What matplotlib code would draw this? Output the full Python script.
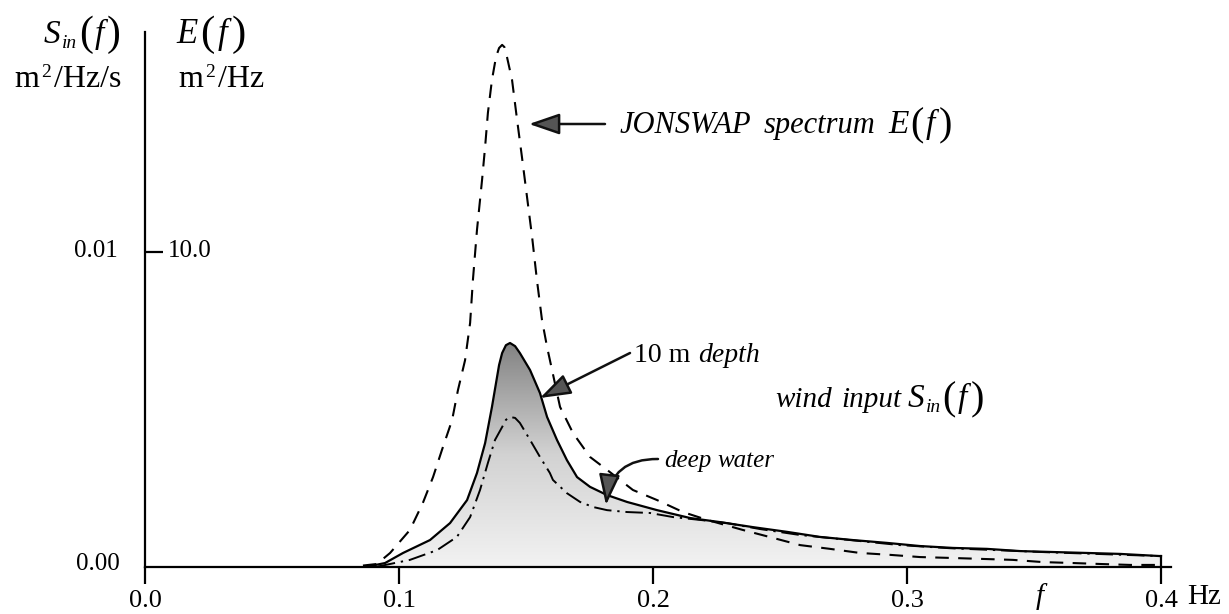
import numpy as np
import matplotlib
matplotlib.use("Agg")
import matplotlib.pyplot as plt
from matplotlib.colors import LinearSegmentedColormap
from matplotlib.patches import Polygon

plt.rcParams['font.family'] = ['Liberation Serif', 'DejaVu Serif']
plt.rcParams['mathtext.fontset'] = 'custom'
plt.rcParams['mathtext.rm'] = 'Liberation Serif'
plt.rcParams['mathtext.it'] = 'Liberation Serif:italic'
plt.rcParams['mathtext.bf'] = 'Liberation Serif:bold'

# ---- data ----
# JONSWAP spectrum E(f), m^2/Hz
f_jonswap = [0.0858, 0.0913, 0.0965, 0.1043, 0.1094, 0.1134, 0.1169, 0.1209, 0.1232, 0.1260,
             0.1280, 0.1291, 0.1307, 0.1327, 0.1339, 0.1350, 0.1366, 0.1382, 0.1394, 0.1406,
             0.1415, 0.1425, 0.1445, 0.1465, 0.1484, 0.1504, 0.1524, 0.1543, 0.1563, 0.1583,
             0.1634, 0.1685, 0.1752, 0.1819, 0.1921, 0.2016, 0.2118, 0.2213, 0.2354, 0.2472,
             0.2579, 0.2697, 0.2815, 0.2933, 0.3051, 0.3181, 0.3299, 0.3417, 0.3535, 0.3654,
             0.3760, 0.3878, 0.4000]
E_jonswap = [0.03, 0.08, 0.43, 1.16, 2.02, 2.84, 3.70, 4.65, 5.60, 6.55,
             7.74, 9.10, 10.69, 12.28, 13.33, 14.41, 15.46, 16.19, 16.47, 16.57,
             16.50, 16.19, 15.46, 14.18, 13.01, 11.74, 10.47, 9.10, 7.83, 6.97,
             5.07, 4.24, 3.48, 3.07, 2.43, 2.11, 1.73, 1.48, 1.16, 0.91,
             0.68, 0.56, 0.43, 0.37, 0.30, 0.27, 0.24, 0.21, 0.14, 0.11,
             0.08, 0.05, 0.05]

# wind input S_in(f) at 10 m depth, m^2/Hz/s
f_shallow = [0.0878, 0.0945, 0.1016, 0.1122, 0.1201, 0.1268, 0.1307, 0.1339, 0.1366, 0.1386,
             0.1394, 0.1406, 0.1421, 0.1437, 0.1457, 0.1476, 0.1516, 0.1555, 0.1583, 0.1622,
             0.1661, 0.1701, 0.1752, 0.1819, 0.1898, 0.2016, 0.2146, 0.2264, 0.2394, 0.2528,
             0.2657, 0.2787, 0.2921, 0.3051, 0.3181, 0.3315, 0.3445, 0.3575, 0.3709, 0.3839,
             0.4000]
S_shallow = [0.00000, 0.00011, 0.00043, 0.00084, 0.00138, 0.00211, 0.00297, 0.00392, 0.00507, 0.00602,
             0.00640, 0.00678, 0.00703, 0.00710, 0.00700, 0.00678, 0.00624, 0.00551, 0.00475, 0.00402,
             0.00338, 0.00284, 0.00253, 0.00227, 0.00205, 0.00179, 0.00154, 0.00141, 0.00125, 0.00110,
             0.00094, 0.00084, 0.00075, 0.00065, 0.00059, 0.00056, 0.00049, 0.00046, 0.00043, 0.00040,
             0.00033]

# wind input S_in(f) in deep water, m^2/Hz/s
f_deep = [0.0917, 0.1043, 0.1150, 0.1228, 0.1280, 0.1319, 0.1350, 0.1378, 0.1406, 0.1421,
          0.1437, 0.1457, 0.1476, 0.1516, 0.1555, 0.1594, 0.1606, 0.1661, 0.1713, 0.1764,
          0.1819, 0.1898, 0.1988, 0.2079, 0.2185, 0.2291, 0.2421, 0.2579, 0.2776, 0.2972,
          0.3170, 0.3560, 0.4000]
S_deep = [0.00000, 0.00021, 0.00052, 0.00094, 0.00157, 0.00243, 0.00329, 0.00402, 0.00443, 0.00466,
          0.00475, 0.00472, 0.00456, 0.00402, 0.00348, 0.00297, 0.00275, 0.00233, 0.00205, 0.00189,
          0.00179, 0.00173, 0.00170, 0.00157, 0.00148, 0.00138, 0.00119, 0.00100, 0.00084, 0.00068,
          0.00058, 0.00045, 0.00033]

x_ticks = [0.0, 0.1, 0.2, 0.3, 0.4]
x_ticklabels = ['0.0', '0.1', '0.2', '0.3', '0.4']

# ---- figure ----
W, H = 1229, 614
fig = plt.figure(figsize=(W / 100, H / 100), dpi=100)
x0 = 145
PXF = 2540.0           # pixels per Hz
yb, yt = 566.5, 32
PXY = 31.48            # pixels per E-unit
x_right = 1171
ax = fig.add_axes([x0 / W, (H - yb) / H, (x_right - x0) / W, (yb - yt) / H])
ax.set_xlim(0, (x_right - x0) / PXF)
ax.set_ylim(0, (yb - yt) / PXY)
for s in ['top', 'right']:
    ax.spines[s].set_visible(False)
for s in ['left', 'bottom']:
    ax.spines[s].set_linewidth(1.6)
    ax.spines[s].set_color('black')

S_sh = np.array(S_shallow) * 1000.0
S_dp = np.array(S_deep) * 1000.0

# gradient fill under the 10 m depth curve
cmap = LinearSegmentedColormap.from_list('g', ['#f2f2f2', '#d2d2d2', '#828282'])
grad = np.linspace(0, 1, 256).reshape(-1, 1)
im = ax.imshow(grad, extent=[0, 0.4, 0, max(S_sh)], origin='lower', aspect='auto',
               cmap=cmap, zorder=1)
poly = Polygon(np.column_stack([np.r_[f_shallow, f_shallow[-1], f_shallow[0]],
                                np.r_[S_sh, 0, 0]]), closed=True,
               facecolor='none', edgecolor='none', transform=ax.transData)
ax.add_patch(poly)
im.set_clip_path(poly)

ax.plot(f_shallow, S_sh, color='black', lw=1.6, zorder=3, solid_joinstyle='round')
ax.plot([f_shallow[-1], f_shallow[-1]], [0, S_sh[-1]], color='black', lw=1.6, zorder=3)
ax.plot(f_deep, S_dp, color='black', lw=1.4, dashes=(9, 3, 1.2, 3), zorder=3)
ax.plot(f_jonswap, E_jonswap, color='black', lw=1.5, dashes=(6.5, 4.5), zorder=3)

# ticks
ax.set_xticks(x_ticks)
ax.set_xticklabels(x_ticklabels, fontsize=19)
ax.tick_params(axis='x', direction='out', length=12, width=1.6, pad=5)
ax.set_yticks([0, 10])
ax.set_yticklabels(['', ''])
ax.tick_params(axis='y', direction='in', length=13, width=1.6)
ax.yaxis.get_major_ticks()[0].tick1line.set_visible(False)

renderer = fig.canvas.get_renderer()

def chain(x, ybase, pieces):
    """pieces: (text, fontsize, style, gap_after_px, dy_px)"""
    for s, size, style, gap, dy in pieces:
        t = fig.text(x / W, 1 - (ybase + dy) / H, s, fontsize=size, fontstyle=style,
                     ha='left', va='baseline')
        bb = t.get_window_extent(renderer)
        x = bb.x1 + gap

def px(x, y):
    return x / W, 1 - y / H

fs = 18
fig.text(*px(1187, 597), 'Hz', fontsize=21, ha='left', va='center')
fig.text(*px(1040, 597), 'f', fontsize=fs + 3, fontstyle='italic', ha='center', va='center')
fig.text(*px(120, 564), '0.00', fontsize=fs, ha='right', va='center')
fig.text(*px(118, 251), '0.01', fontsize=fs, ha='right', va='center')
fig.text(*px(168, 251), '10.0', fontsize=fs, ha='left', va='center')

# headers
chain(44, 43, [('S', 24, 'italic', 1, 0), ('in', 14, 'italic', 2, 5),
               ('(', 30, 'normal', 2, 2), ('f', 24, 'italic', 3, 0), (')', 30, 'normal', 0, 2)])
chain(176, 43, [('E', 25, 'italic', 3, 0),
                ('(', 31, 'normal', 3, 2), ('f', 25, 'italic', 4, 0), (')', 31, 'normal', 0, 2)])
chain(14, 87, [('m', 23, 'normal', 2, 0), ('2', 14, 'normal', 3, -10), ('/Hz/s', 23, 'normal', 0, 0)])
chain(178, 87, [('m', 23, 'normal', 2, 0), ('2', 14, 'normal', 3, -10), ('/Hz', 23, 'normal', 0, 0)])

# annotations
def fx(xp):
    return (xp - x0) / PXF

def fy(yp):
    return (yb - yp) / PXY

aprops = dict(arrowstyle='-|>,head_length=1.05,head_width=0.36', mutation_scale=18,
              ec='#111111', fc='#555555', lw=1.8, shrinkA=0, shrinkB=0)

ax.annotate('', xy=(fx(529), fy(124)), xytext=(fx(605), fy(124)), arrowprops=aprops, zorder=5)
chain(620, 133, [('JONSWAP', 22, 'italic', 12, 0), ('spectrum', 22, 'italic', 13, 0),
                 ('E', 24, 'italic', 2, 0), ('(', 29, 'normal', 2, 2), ('f', 24, 'italic', 3, 0),
                 (')', 29, 'normal', 0, 2)])

ax.annotate('', xy=(fx(540), fy(398)), xytext=(fx(630), fy(353)), arrowprops=aprops, zorder=5)
chain(634, 362, [('10 m', 20, 'normal', 8, 0), ('depth', 20, 'italic', 0, 0)])

chain(775, 407, [('wind', 21, 'italic', 10, 0), ('input', 21, 'italic', 6, 0),
                 ('S', 24, 'italic', 1, 0), ('in', 14, 'italic', 2, 5),
                 ('(', 29, 'normal', 2, 2), ('f', 24, 'italic', 3, 0), (')', 29, 'normal', 0, 2)])

ap2 = dict(aprops)
ap2['connectionstyle'] = 'arc3,rad=0.45'
ax.annotate('', xy=(fx(606), fy(505)), xytext=(fx(658), fy(459)), arrowprops=ap2, zorder=5)
chain(664, 467, [('deep', 18, 'italic', 6, 0), ('water', 18, 'italic', 0, 0)])

fig.savefig('out.png', dpi=100, facecolor='white')
